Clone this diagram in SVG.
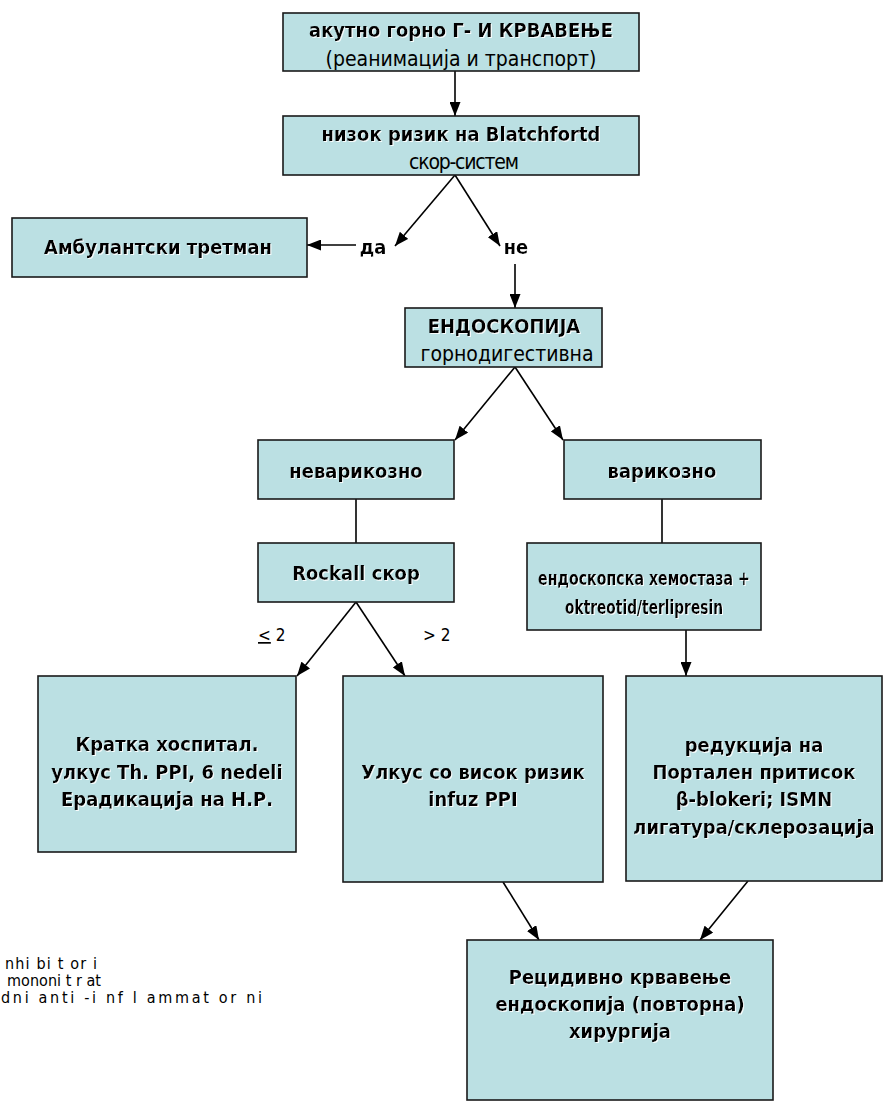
<svg xmlns="http://www.w3.org/2000/svg" width="884" height="1113" viewBox="0 0 884 1113">
<style>
.box{fill:#BBE0E3;stroke:#1a1a1a;stroke-width:1.6}
.b{font-family:'DejaVu Sans Condensed','DejaVu Sans',sans-serif;font-stretch:condensed;font-weight:bold;font-size:20px;fill:#000;text-anchor:middle}
.r{font-family:'DejaVu Sans Condensed','DejaVu Sans',sans-serif;font-stretch:condensed;font-size:21px;fill:#000;text-anchor:middle}
.n{font-family:'DejaVu Sans Condensed','DejaVu Sans',sans-serif;font-stretch:condensed;font-size:16px;fill:#000}
.c{stroke:#000;stroke-width:1.6;fill:none}
.a{marker-end:url(#ah)}
</style>
<defs>
<marker id="ah" viewBox="0 0 14 11" refX="14" refY="5.5" markerWidth="14" markerHeight="11" markerUnits="userSpaceOnUse" orient="auto">
<path d="M0,0 L14,5.5 L0,11 Z" fill="#000"/>
</marker>
<filter id="sh" x="-5%" y="-20%" width="110%" height="140%"><feDropShadow dx="1" dy="1" stdDeviation="0" flood-color="#ffffff" flood-opacity="0.9"/></filter>
</defs>
<g id="connectors">
<line class="c a" x1="455" y1="71" x2="455" y2="116"/>
<line class="c a" x1="455" y1="175" x2="395" y2="246"/>
<line class="c a" x1="455" y1="175" x2="500" y2="246"/>
<line class="c a" x1="356" y1="245" x2="307" y2="245"/>
<line class="c a" x1="515" y1="264" x2="515" y2="308"/>
<line class="c a" x1="515" y1="367" x2="455" y2="440"/>
<line class="c a" x1="515" y1="367" x2="563" y2="440"/>
<line class="c" x1="356" y1="499" x2="356" y2="543"/>
<line class="c" x1="662" y1="499" x2="662" y2="543"/>
<line class="c a" x1="356" y1="602" x2="297" y2="676"/>
<line class="c a" x1="356" y1="602" x2="405" y2="676"/>
<line class="c a" x1="686" y1="630" x2="686" y2="676"/>
<line class="c a" x1="503" y1="882" x2="539" y2="940"/>
<line class="c a" x1="748" y1="881" x2="700" y2="940"/>
</g>
<g id="labels">
<text class="b" x="373" y="254" filter="url(#sh)">да</text>
<text class="b" x="516" y="254" filter="url(#sh)">не</text>
<text class="n" x="258" y="641" style="font-size:17px"><tspan text-decoration="underline">&lt;</tspan> 2</text>
<text class="n" x="423" y="641" style="font-size:17px">&gt; 2</text>
</g>
<g id="n1">
<rect class="box" x="283" y="13" width="356" height="58"/>
<text class="b" x="461" y="37" filter="url(#sh)">акутно горно Г- И КРВАВЕЊЕ</text>
<text class="r" x="461" y="66">(реанимација и транспорт)</text>
</g>
<g id="n2">
<rect class="box" x="283" y="116" width="356" height="59"/>
<text class="b" x="461" y="141" filter="url(#sh)">низок ризик на  Blatchfortd</text>
<text class="r" x="464" y="169" textLength="110">скор-систем</text>
</g>
<g id="n3">
<rect class="box" x="12" y="218" width="295" height="59"/>
<text class="b" x="158" y="254" filter="url(#sh)">Амбулантски третман</text>
</g>
<g id="n4">
<rect class="box" x="405" y="308" width="197" height="59"/>
<text class="b" x="504" y="333" filter="url(#sh)">ЕНДОСКОПИЈА</text>
<text class="r" x="507" y="361">горнодигестивна</text>
</g>
<g id="n5">
<rect class="box" x="258" y="440" width="196" height="59"/>
<text class="b" x="356" y="478" filter="url(#sh)">неварикозно</text>
</g>
<g id="n6">
<rect class="box" x="564" y="440" width="197" height="59"/>
<text class="b" x="662" y="478" filter="url(#sh)">варикозно</text>
</g>
<g id="n7">
<rect class="box" x="258" y="543" width="196" height="59"/>
<text class="b" x="356" y="580" filter="url(#sh)">Rockall скор</text>
</g>
<g id="n8">
<rect class="box" x="527" y="543" width="234" height="87"/>
<text class="b" x="644" y="585" style="font-size:19px" textLength="212" lengthAdjust="spacingAndGlyphs" filter="url(#sh)">ендоскопска хемостаза +</text>
<text class="b" x="644" y="614" style="font-size:19px" textLength="158" lengthAdjust="spacingAndGlyphs" filter="url(#sh)">oktreotid/terlipresin</text>
</g>
<g id="n9">
<rect class="box" x="38" y="676" width="258" height="176"/>
<text class="b" x="167" y="751" filter="url(#sh)">Кратка хоспитал.</text>
<text class="b" x="167" y="779" filter="url(#sh)">улкус Th. PPI, 6 nedeli</text>
<text class="b" x="167" y="806" filter="url(#sh)">Ерадикација на Н.Р.</text>
</g>
<g id="n10">
<rect class="box" x="343" y="676" width="260" height="206"/>
<text class="b" x="473" y="779" filter="url(#sh)">Улкус со висок ризик</text>
<text class="b" x="473" y="806" filter="url(#sh)">infuz  PPI</text>
</g>
<g id="n11">
<rect class="box" x="626" y="676" width="256" height="205"/>
<text class="b" x="754" y="752" filter="url(#sh)">редукција на</text>
<text class="b" x="754" y="779" filter="url(#sh)">Портален притисок</text>
<text class="b" x="754" y="806" filter="url(#sh)">β-blokeri; ISMN</text>
<text class="b" x="754" y="834" filter="url(#sh)">лигатура/склерозација</text>
</g>
<g id="n12">
<rect class="box" x="467" y="940" width="306" height="160"/>
<text class="b" x="620" y="984" filter="url(#sh)">Рецидивно крвавење</text>
<text class="b" x="620" y="1011" filter="url(#sh)">ендоскопија (повторна)</text>
<text class="b" x="620" y="1038" filter="url(#sh)">хирургија</text>
</g>
<g id="notes">
<text class="n" x="5" y="969" textLength="92" lengthAdjust="spacing">nhi bi t or i</text>
<text class="n" x="7" y="986" textLength="94" lengthAdjust="spacing">mononi t r at</text>
<text class="n" x="1" y="1003" textLength="261" lengthAdjust="spacing">dni  anti -i nf l ammat or ni</text>
</g>
</svg>
